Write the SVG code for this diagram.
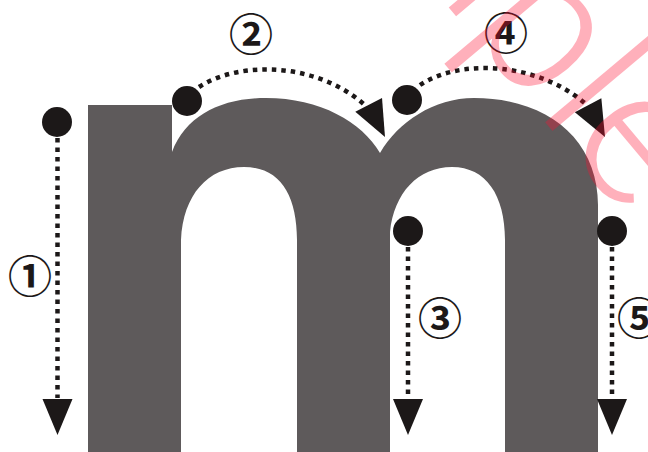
<svg xmlns="http://www.w3.org/2000/svg" width="648" height="452" viewBox="0 0 648 452">
<style>
.dot{fill:#1c1818}
.dash{fill:none;stroke:#1c1818;stroke-width:4.5;stroke-dasharray:4.5 5}
.ah{fill:#1c1818}
.num{font-family:"Noto Sans CJK JP","DejaVu Sans",sans-serif;font-size:44px;font-weight:700;fill:#1c1818;text-anchor:middle;dominant-baseline:central}
.wm{font-family:Roboto,"Liberation Sans",sans-serif;font-weight:300;font-size:195px;fill:#ff1030;fill-opacity:.33}
</style>
<defs><path id="ah" d="M-15,-36 L15,-36 L0,0 Z"/></defs>
<rect width="648" height="452" fill="#fff"/>
<g id="letter-m"><path fill="#5e5a5b" d="M88,105 H172 V152 C186,115 222,98 266,98 C320,98 362,122 380,153 C398,122 434,98 474,98 C548,98 598,140 598,205 V452 H505 V240 C505,195 486,167 452,167 C418,167 394,193 390,232 V452 H297 V240 C297,195 280,167 244,167 C208,167 183,195 181,240 V452 H88 Z"/></g>
<g id="connectors">
<path class="dash" d="M57.5,138 V398"/>
<path class="dash" d="M199,87 C240,60 320,62 368,108"/>
<path class="dash" d="M408,247 V399"/>
<path class="dash" d="M420,85 C460,58 540,62 588,106"/>
<path class="dash" d="M612,247 V399"/>
<use href="#ah" class="ah" transform="translate(57.5,435)"/>
<use href="#ah" class="ah" transform="translate(385,137) rotate(-27)"/>
<use href="#ah" class="ah" transform="translate(408,435)"/>
<use href="#ah" class="ah" transform="translate(605,137) rotate(-28)"/>
<use href="#ah" class="ah" transform="translate(612,435)"/>
</g>
<g id="node-1"><circle class="dot" cx="57" cy="122" r="15"/><text class="num" x="30" y="274">①</text></g>
<g id="node-2"><circle class="dot" cx="187" cy="101" r="15"/><text class="num" x="251" y="32">②</text></g>
<g id="node-3"><circle class="dot" cx="408" cy="231" r="15"/><text class="num" x="440" y="316">③</text></g>
<g id="node-4"><circle class="dot" cx="407" cy="100" r="15"/><text class="num" x="506" y="31">④</text></g>
<g id="node-5"><circle class="dot" cx="612" cy="231" r="15"/><text class="num" x="639" y="316">⑤</text></g>
<g id="watermark">
<text class="wm" transform="translate(550,128) rotate(50)" x="-525" y="0">Sample</text>
</g>
</svg>
